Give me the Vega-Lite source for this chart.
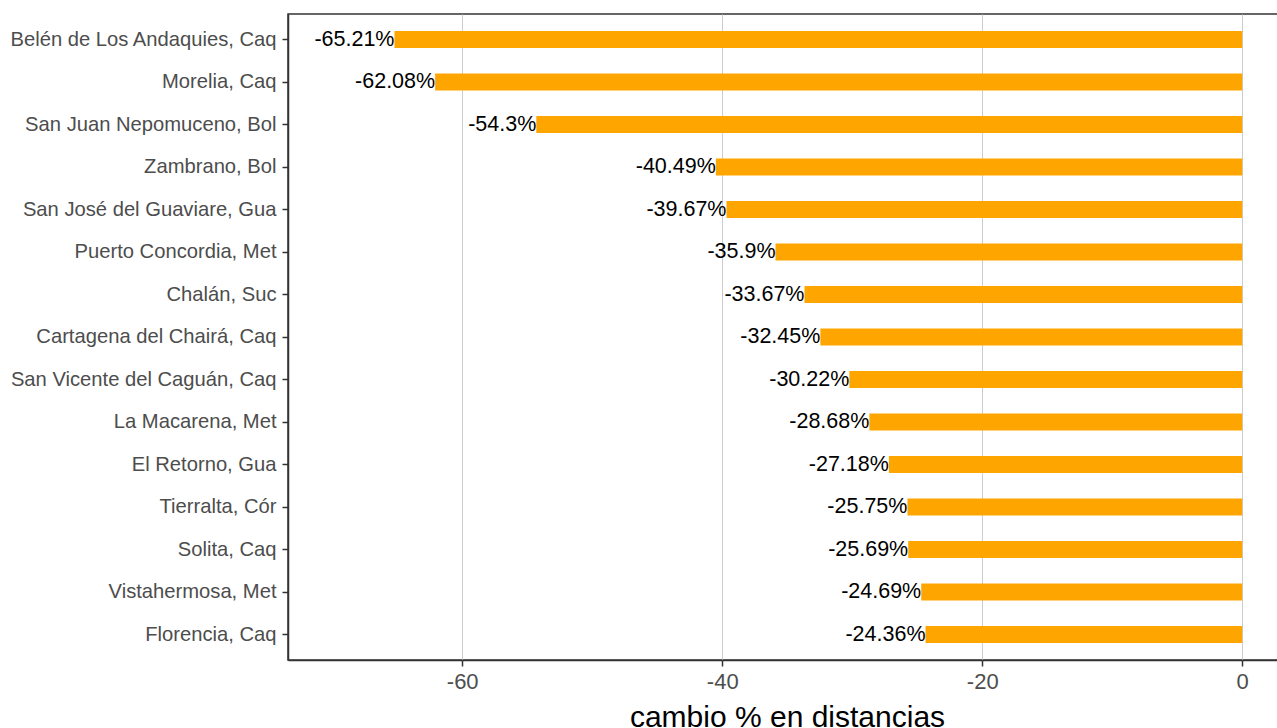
{
  "$schema": "https://vega.github.io/schema/vega-lite/v6.json",
  "width": 991,
  "height": 646,
  "padding": {"left": 288, "top": 14, "right": 0, "bottom": 68},
  "autosize": {"type": "none"},
  "background": "white",
  "config": {
    "view": {"stroke": "#333333", "strokeWidth": 1.5},
    "font": "Liberation Sans"
  },
  "data": {
    "values": [
      {"municipio": "Belén de Los Andaquies, Caq", "cambio": -65.21, "label": "-65.21%"},
      {"municipio": "Morelia, Caq", "cambio": -62.08, "label": "-62.08%"},
      {"municipio": "San Juan Nepomuceno, Bol", "cambio": -54.3, "label": "-54.3%"},
      {"municipio": "Zambrano, Bol", "cambio": -40.49, "label": "-40.49%"},
      {"municipio": "San José del Guaviare, Gua", "cambio": -39.67, "label": "-39.67%"},
      {"municipio": "Puerto Concordia, Met", "cambio": -35.9, "label": "-35.9%"},
      {"municipio": "Chalán, Suc", "cambio": -33.67, "label": "-33.67%"},
      {"municipio": "Cartagena del Chairá, Caq", "cambio": -32.45, "label": "-32.45%"},
      {"municipio": "San Vicente del Caguán, Caq", "cambio": -30.22, "label": "-30.22%"},
      {"municipio": "La Macarena, Met", "cambio": -28.68, "label": "-28.68%"},
      {"municipio": "El Retorno, Gua", "cambio": -27.18, "label": "-27.18%"},
      {"municipio": "Tierralta, Cór", "cambio": -25.75, "label": "-25.75%"},
      {"municipio": "Solita, Caq", "cambio": -25.69, "label": "-25.69%"},
      {"municipio": "Vistahermosa, Met", "cambio": -24.69, "label": "-24.69%"},
      {"municipio": "Florencia, Caq", "cambio": -24.36, "label": "-24.36%"}
    ]
  },
  "encoding": {
    "y": {
      "field": "municipio",
      "type": "nominal",
      "sort": null,
      "scale": {"paddingInner": 0.6, "paddingOuter": 0.4},
      "axis": {
        "title": null,
        "labelFont": "Liberation Sans",
        "labelFontSize": 20.2,
        "labelColor": "#4D4D4D",
        "labelPadding": 6,
        "labelLimit": 0,
        "tickSize": 6,
        "tickWidth": 1.5,
        "tickColor": "#333333",
        "domainColor": "#333333",
        "domainWidth": 1.5,
        "grid": false
      }
    },
    "x": {
      "field": "cambio",
      "type": "quantitative",
      "scale": {"domain": [-73.4, 2.83], "nice": false, "zero": false},
      "axis": {
        "values": [-60, -40, -20, 0],
        "labelExpr": "replace(datum.label, '−', '-')",
        "title": "cambio % en distancias",
        "titleFont": "Liberation Sans",
        "titleFontSize": 30,
        "titleFontWeight": "normal",
        "titleColor": "#000000",
        "titleX": 499,
        "titleY": 66,
        "titleBaseline": "alphabetic",
        "titleAlign": "center",
        "labelFont": "Liberation Sans",
        "labelFontSize": 22,
        "labelColor": "#4D4D4D",
        "labelPadding": 5,
        "tickSize": 6,
        "tickWidth": 1.5,
        "tickColor": "#333333",
        "domainColor": "#333333",
        "domainWidth": 1.5,
        "grid": true,
        "gridColor": "#CCCCCC",
        "gridWidth": 1
      }
    }
  },
  "layer": [
    {
      "mark": {"type": "bar", "color": "#FFA500"},
      "encoding": {"x2": {"datum": 0}}
    },
    {
      "mark": {"type": "text", "align": "right", "baseline": "middle", "fontSize": 21.5, "color": "#000000", "font": "Liberation Sans"},
      "encoding": {"text": {"field": "label", "type": "nominal"}}
    }
  ]
}
